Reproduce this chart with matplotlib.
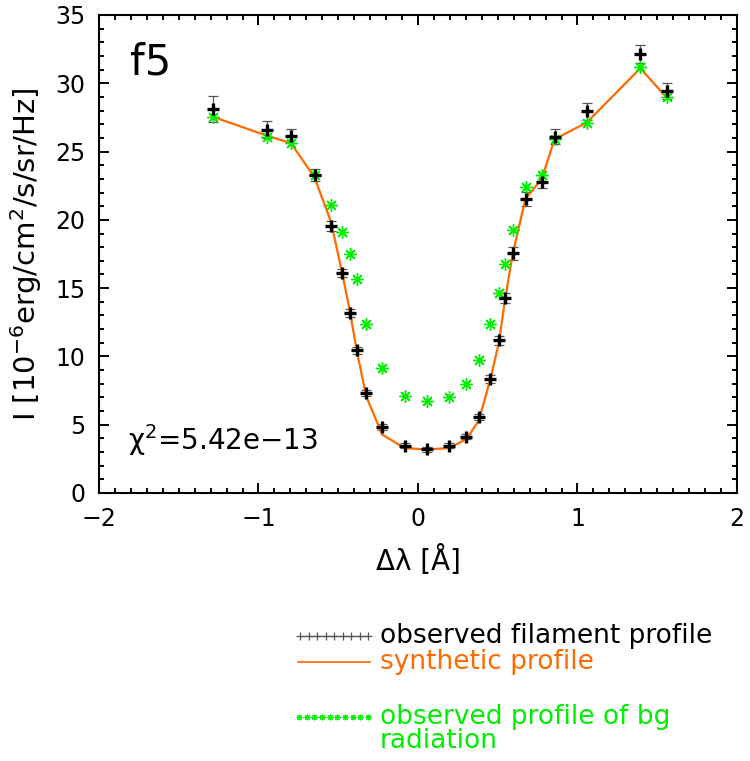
import numpy as np
import matplotlib
matplotlib.use("Agg")
from matplotlib import pyplot as plt

# wavelength offsets [A]
dlam = [-1.287, -0.944, -0.796, -0.648, -0.544, -0.476, -0.427, -0.385, -0.325,
        -0.224, -0.083, 0.057, 0.195, 0.304, 0.382, 0.453, 0.507, 0.546, 0.593,
        0.674, 0.775, 0.856, 1.058, 1.394, 1.558]
# observed filament profile
obs = [28.11, 26.59, 26.13, 23.27, 19.55, 16.13, 13.19, 10.45, 7.33, 4.83, 3.46,
       3.19, 3.46, 4.12, 5.56, 8.35, 11.19, 14.29, 17.54, 21.55, 22.80, 26.08,
       27.94, 32.14, 29.45]
obs_err = [0.98, 0.62, 0.52, 0.43, 0.37, 0.30, 0.27, 0.25, 0.22, 0.20, 0.18, 0.18,
           0.18, 0.20, 0.25, 0.30, 0.33, 0.38, 0.45, 0.50, 0.50, 0.56, 0.61, 0.66, 0.60]
# synthetic profile
synth = [27.55, 26.15, 25.61, 23.09, 19.80, 16.13, 13.30, 10.50, 7.08, 4.27, 3.29,
         3.19, 3.29, 3.95, 5.32, 8.30, 11.00, 14.17, 17.47, 21.55, 22.97, 25.90,
         27.13, 31.10, 28.96]
# observed background profile
bg = [27.50, 26.10, 25.66, 23.32, 21.07, 19.13, 17.52, 15.64, 12.41, 9.18, 7.13,
      6.71, 7.06, 8.01, 9.74, 12.39, 14.66, 16.79, 19.26, 22.43, 23.26, 25.90,
      27.10, 31.16, 28.96]

orange = '#ff6a00'
green = '#00ee00'
star = (8, 2, 0)

plt.rcParams['font.family'] = ['DejaVu Sans']
fig = plt.figure(figsize=(7.5, 7.61), dpi=100)
ax = fig.add_axes([99 / 750, 1 - 493 / 761, 638 / 750, 478 / 761])

ax.errorbar(dlam, obs, yerr=obs_err, fmt='none', ecolor='#555555', elinewidth=0.9,
            capsize=3.5, capthick=0.9, zorder=2)
ax.plot(dlam, synth, color=orange, lw=1.6, zorder=3)
ax.plot(dlam, bg, ls='none', marker=star, ms=9, mec=green, mew=1.0, zorder=4)
ax.plot(dlam, obs, ls='none', marker='+', ms=8, mec='black', mew=2.4, zorder=5)

ax.set_xlim(-2, 2)
ax.set_ylim(0, 35)
ax.set_xticks([-2, -1, 0, 1, 2])
ax.set_xticks(np.arange(-2, 2.01, 0.1), minor=True)
ax.set_yticks(np.arange(0, 36, 5))
ax.set_yticks(np.arange(0, 36, 1), minor=True)
ax.tick_params(which='both', direction='in', top=True, right=True, width=1.4,
               labelsize=17)
ax.tick_params(which='major', length=7.5, pad=10)
ax.tick_params(which='minor', length=3.8)
for s in ax.spines.values():
    s.set_linewidth(1.5)

ax.set_xlabel('Δλ [Å]', fontsize=20, labelpad=10)
ax.set_ylabel('I [10$^{-6}$erg/cm$^2$/s/sr/Hz]', fontsize=21, labelpad=8)
ax.text(0.048, 0.945, 'f5', transform=ax.transAxes, fontsize=30, va='top', ha='left')
ax.text(0.045, 0.11, 'χ$^2$=5.42e−13', transform=ax.transAxes, fontsize=20,
        va='center', ha='left')

# legend drawn in pixel coordinates of the figure
lg = fig.add_axes([0, 0, 1, 1], zorder=-1)
lg.set_xlim(0, 750)
lg.set_ylim(761, 0)
lg.axis('off')
xs = np.linspace(300, 368, 9)
lg.plot(xs, np.full_like(xs, 636), color='#555555', lw=0.9, marker='+', ms=6, mew=0.9)
lg.plot([298, 370], [662, 662], color=orange, lw=1.2)
xs = np.linspace(299, 368, 10)
lg.plot(xs, np.full_like(xs, 717), ls=':', color=green, lw=1, marker=star, ms=4, mew=0.8,
        mec=green)
lg.text(380, 636, 'observed filament profile', fontsize=19, va='center', color='black')
lg.text(380, 662, 'synthetic profile', fontsize=19, va='center', color=orange)
lg.text(380, 729, 'observed profile of bg\nradiation', fontsize=19, va='center',
        color=green, linespacing=0.9)

fig.savefig('out.png', dpi=100)
